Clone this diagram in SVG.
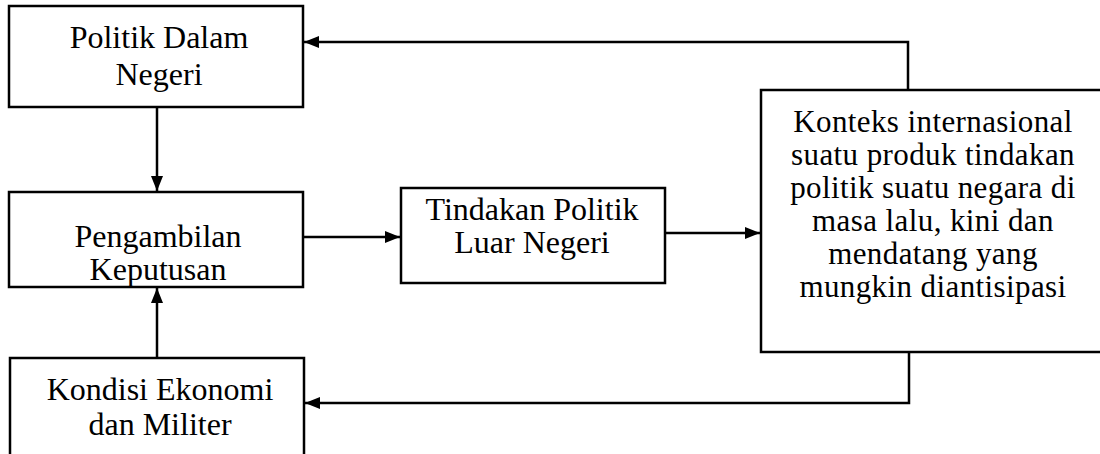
<svg xmlns="http://www.w3.org/2000/svg" width="1100" height="454" viewBox="0 0 1100 454">
<style>
.box{fill:#fff;stroke:#000;stroke-width:2.5}
.t{font-family:"Liberation Serif","Times New Roman",serif;font-size:32px;fill:#000;text-anchor:middle}
.r{font-size:31px;letter-spacing:0.4px}
.c{fill:none;stroke:#000;stroke-width:2.5}
</style>
<defs>
<marker id="ah" viewBox="0 0 15 12" refX="15" refY="6" markerWidth="15" markerHeight="12" markerUnits="userSpaceOnUse" orient="auto">
<path d="M0,0 L15,6 L0,12 Z" fill="#000"/>
</marker>
</defs>
<rect width="1100" height="454" fill="#fff"/>
<g id="connectors">
<path class="c" d="M157,107 V191" marker-end="url(#ah)"/>
<path class="c" d="M157,358 V288" marker-end="url(#ah)"/>
<path class="c" d="M303,237 H400" marker-end="url(#ah)"/>
<path class="c" d="M665,233 H760" marker-end="url(#ah)"/>
<path class="c" d="M908,90 V42 H304" marker-end="url(#ah)"/>
<path class="c" d="M909,352 V403 H305" marker-end="url(#ah)"/>
</g>
<g id="politik-dalam-negeri">
<rect class="box" x="9" y="6" width="294" height="101"/>
<text class="t" x="159" y="48">Politik Dalam</text>
<text class="t" x="159" y="85">Negeri</text>
</g>
<g id="pengambilan-keputusan">
<rect class="box" x="9" y="192" width="294" height="95"/>
<text class="t" x="158" y="247">Pengambilan</text>
<text class="t" x="158" y="280">Keputusan</text>
</g>
<g id="tindakan-politik">
<rect class="box" x="401" y="188" width="264" height="95"/>
<text class="t" x="532" y="220">Tindakan Politik</text>
<text class="t" x="532" y="253">Luar Negeri</text>
</g>
<g id="kondisi-ekonomi">
<rect class="box" x="10" y="358" width="294" height="110"/>
<text class="t" x="160" y="400">Kondisi Ekonomi</text>
<text class="t" x="160" y="435">dan Militer</text>
</g>
<g id="konteks-internasional">
<rect class="box" x="761" y="90" width="350" height="262"/>
<text class="t r" x="933" y="132">Konteks internasional</text>
<text class="t r" x="933" y="165">suatu produk tindakan</text>
<text class="t r" x="933" y="198">politik suatu negara di</text>
<text class="t r" x="933" y="231">masa lalu, kini dan</text>
<text class="t r" x="933" y="264">mendatang yang</text>
<text class="t r" x="933" y="297">mungkin diantisipasi</text>
</g>
</svg>
